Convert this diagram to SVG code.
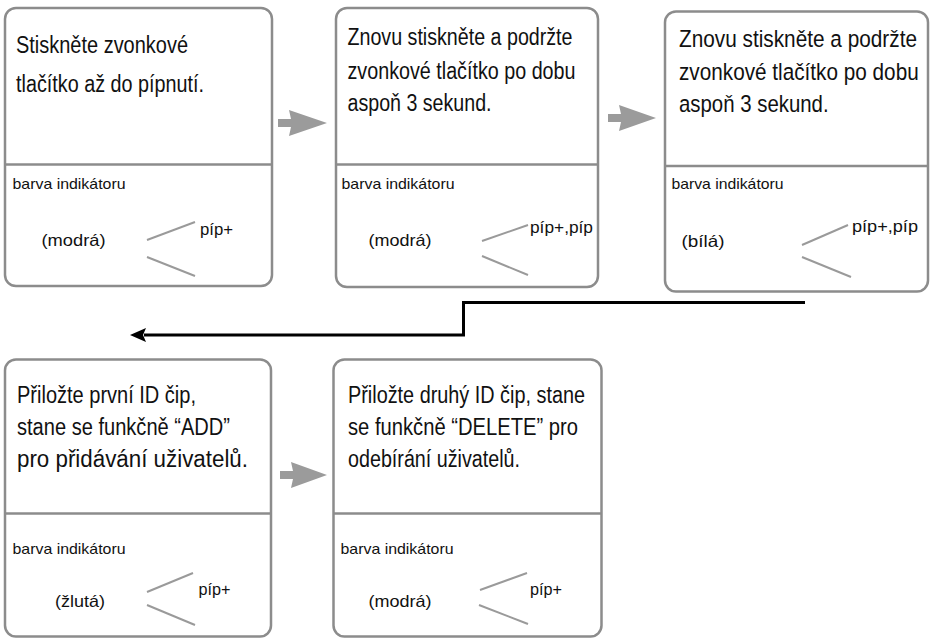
<svg xmlns="http://www.w3.org/2000/svg" width="935" height="638" viewBox="0 0 935 638">
<style>
.box{fill:#fff;stroke:#8c8c8c;stroke-width:2.5}
.div{stroke:#8c8c8c;stroke-width:2.5}
.t{font-family:"Liberation Sans",Arial,sans-serif;fill:#111}
.big{font-size:23px}
.big3{font-size:24.5px}
.lab{font-size:14.5px}
.col{font-size:16.5px}
.pip{font-size:16.5px}
.tick{stroke:#9a9a9a;stroke-width:2;fill:none}
.garrow{fill:#9b9b9b}
.conn{fill:none;stroke:#000;stroke-width:3}
</style>
<defs>
<marker id="ah" viewBox="0 0 16 14" refX="2" refY="7" markerWidth="16" markerHeight="14" markerUnits="userSpaceOnUse" orient="auto">
<path d="M16,7 L0,0 L3,7 L0,14 Z" fill="#000"/>
</marker>
</defs>

<g id="node1">
<rect class="box" x="5" y="8" width="267" height="278" rx="11"/>
<line class="div" x1="5" y1="164.5" x2="272" y2="164.5"/>
<text class="t big" x="16" y="52.5" textLength="172" lengthAdjust="spacingAndGlyphs">Stiskněte zvonkové</text>
<text class="t big" x="16" y="92" textLength="188" lengthAdjust="spacingAndGlyphs">tlačítko až do pípnutí.</text>
<text class="t lab" x="12.5" y="189" textLength="113" lengthAdjust="spacingAndGlyphs">barva indikátoru</text>
<text class="t col" x="41.5" y="245.5" textLength="64" lengthAdjust="spacingAndGlyphs">(modrá)</text>
<text class="t pip" x="200" y="235" textLength="33" lengthAdjust="spacingAndGlyphs">píp+</text>
<line class="tick" x1="147" y1="240" x2="195" y2="222"/>
<line class="tick" x1="147" y1="257" x2="195" y2="276"/>
</g>

<g id="node2">
<rect class="box" x="336" y="8" width="262" height="279" rx="11"/>
<line class="div" x1="336" y1="164.5" x2="598" y2="164.5"/>
<text class="t big" x="347.5" y="45" textLength="225" lengthAdjust="spacingAndGlyphs">Znovu stiskněte a podržte</text>
<text class="t big" x="347.5" y="78.5" textLength="228" lengthAdjust="spacingAndGlyphs">zvonkové tlačítko po dobu</text>
<text class="t big" x="347.5" y="110.5" textLength="144" lengthAdjust="spacingAndGlyphs">aspoň 3 sekund.</text>
<text class="t lab" x="341.5" y="189" textLength="113" lengthAdjust="spacingAndGlyphs">barva indikátoru</text>
<text class="t col" x="368.5" y="245.5" textLength="63" lengthAdjust="spacingAndGlyphs">(modrá)</text>
<text class="t pip" x="530" y="233" textLength="63" lengthAdjust="spacingAndGlyphs">píp+,píp</text>
<line class="tick" x1="482" y1="241" x2="528" y2="225"/>
<line class="tick" x1="482" y1="256" x2="528" y2="275"/>
</g>

<g id="node3">
<rect class="box" x="665" y="11.5" width="263" height="280" rx="11"/>
<line class="div" x1="665" y1="166" x2="928" y2="166"/>
<text class="t big3" transform="translate(679,46.5) scale(0.85,1)" x="0" y="0" textLength="280" lengthAdjust="spacingAndGlyphs">Znovu stiskněte a podržte</text>
<text class="t big3" transform="translate(679,80) scale(0.85,1)" x="0" y="0" textLength="282" lengthAdjust="spacingAndGlyphs">zvonkové tlačítko po dobu</text>
<text class="t big3" transform="translate(679,111.5) scale(0.85,1)" x="0" y="0" textLength="176" lengthAdjust="spacingAndGlyphs">aspoň 3 sekund.</text>
<text class="t lab" x="671.5" y="189" textLength="112" lengthAdjust="spacingAndGlyphs">barva indikátoru</text>
<text class="t col" x="681.5" y="246.5" textLength="43" lengthAdjust="spacingAndGlyphs">(bílá)</text>
<text class="t pip" x="852" y="232" textLength="66" lengthAdjust="spacingAndGlyphs">píp+,píp</text>
<line class="tick" x1="802" y1="245" x2="848" y2="225"/>
<line class="tick" x1="802" y1="257" x2="851" y2="277"/>
</g>

<g id="node4">
<rect class="box" x="5" y="359.5" width="266" height="277" rx="11"/>
<line class="div" x1="5" y1="513.5" x2="271" y2="513.5"/>
<text class="t big" x="17" y="402.5" textLength="179" lengthAdjust="spacingAndGlyphs">Přiložte první ID čip,</text>
<text class="t big" x="17" y="435" textLength="213" lengthAdjust="spacingAndGlyphs">stane se funkčně “ADD”</text>
<text class="t big" x="17" y="467" textLength="231" lengthAdjust="spacingAndGlyphs">pro přidávání uživatelů.</text>
<text class="t lab" x="12.5" y="553.5" textLength="113" lengthAdjust="spacingAndGlyphs">barva indikátoru</text>
<text class="t col" x="55" y="606.5" textLength="50" lengthAdjust="spacingAndGlyphs">(žlutá)</text>
<text class="t pip" x="198.5" y="595" textLength="32" lengthAdjust="spacingAndGlyphs">píp+</text>
<line class="tick" x1="147" y1="592" x2="193" y2="573"/>
<line class="tick" x1="147" y1="605" x2="195" y2="625"/>
</g>

<g id="node5">
<rect class="box" x="333.5" y="359.5" width="268" height="277" rx="11"/>
<line class="div" x1="333.5" y1="513.5" x2="601.5" y2="513.5"/>
<text class="t big" x="348" y="403" textLength="237" lengthAdjust="spacingAndGlyphs">Přiložte druhý ID čip, stane</text>
<text class="t big" x="348" y="435" textLength="230" lengthAdjust="spacingAndGlyphs">se funkčně “DELETE” pro</text>
<text class="t big" x="348" y="467" textLength="172" lengthAdjust="spacingAndGlyphs">odebírání uživatelů.</text>
<text class="t lab" x="340.5" y="553.5" textLength="113" lengthAdjust="spacingAndGlyphs">barva indikátoru</text>
<text class="t col" x="368.5" y="606.5" textLength="63" lengthAdjust="spacingAndGlyphs">(modrá)</text>
<text class="t pip" x="530" y="595" textLength="32" lengthAdjust="spacingAndGlyphs">píp+</text>
<line class="tick" x1="480" y1="590" x2="527" y2="573"/>
<line class="tick" x1="479" y1="605" x2="528" y2="624"/>
</g>

<g id="connectors">
<polygon class="garrow" points="278,119 291,119 289,110 327,123 289,136 291,127 278,127"/>
<polygon class="garrow" points="608,114 621,114 619,105 656,118 619,131 621,122 608,122"/>
<polygon class="garrow" points="280,471 293,471 291,462 327,475 291,488 293,479 280,479"/>
<path class="conn" d="M805,302.5 H463.5 V335 H144" marker-end="url(#ah)"/>
</g>
</svg>
